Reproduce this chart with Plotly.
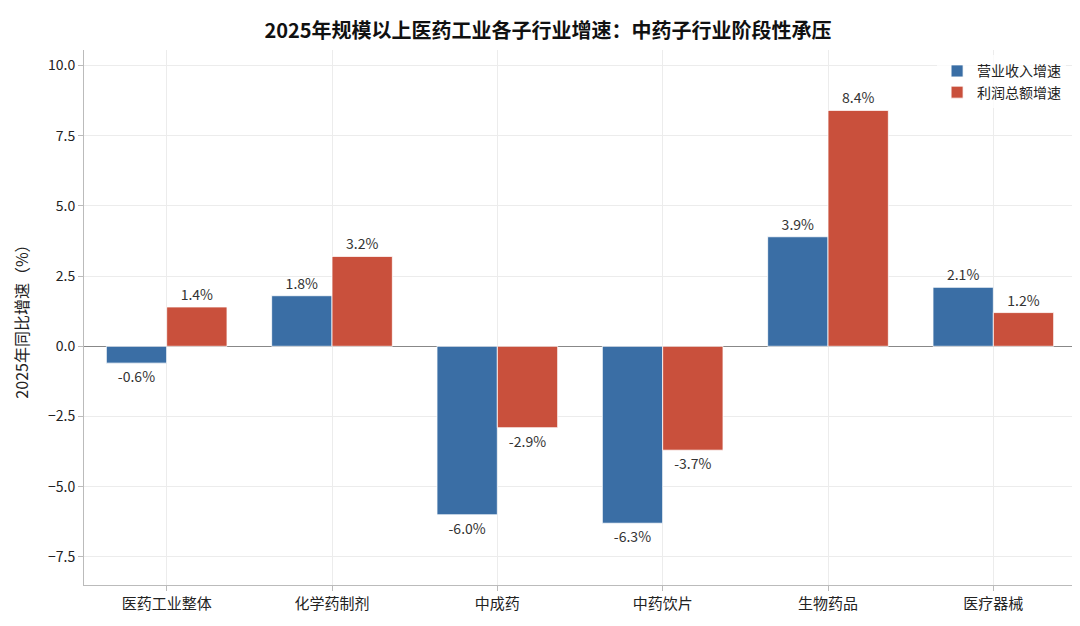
import plotly.graph_objects as go

categories = ["医药工业整体", "化学药制剂", "中成药", "中药饮片", "生物药品", "医疗器械"]
revenue = [-0.6, 1.8, -6.0, -6.3, 3.9, 2.1]
profit = [1.4, 3.2, -2.9, -3.7, 8.4, 1.2]
tick_vals = [-7.5, -5.0, -2.5, 0.0, 2.5, 5.0, 7.5, 10.0]

fig = go.Figure()
fig.add_bar(x=categories, y=revenue, name="营业收入增速", marker_color="#3a6ea5",
            marker_line_color="white", marker_line_width=0.8,
            text=[f"{v:.1f}%" for v in revenue], textposition="outside",
            textfont=dict(size=14, color="#333"), cliponaxis=False)
fig.add_bar(x=categories, y=profit, name="利润总额增速", marker_color="#c9503c",
            marker_line_color="white", marker_line_width=0.8,
            text=[f"{v:.1f}%" for v in profit], textposition="outside",
            textfont=dict(size=14, color="#333"), cliponaxis=False)

fig.update_layout(
    width=1080, height=626, barmode="group", bargap=0.27, bargroupgap=0,
    plot_bgcolor="white", paper_bgcolor="white",
    font=dict(family="Noto Sans CJK SC, DejaVu Sans", size=14, color="#222"),
    title=dict(text="<b>2025年规模以上医药工业各子行业增速：中药子行业阶段性承压</b>",
               x=0.5, xanchor="center", y=0.975, font=dict(size=20, color="#111")),
    margin=dict(l=76, r=12, t=42, b=49),
    legend=dict(x=0.99, y=0.99, xanchor="right", yanchor="top", bgcolor="rgba(255,255,255,0.8)",
                font=dict(size=14)),
    yaxis=dict(range=[-8.5, 10.55], tickvals=tick_vals, tickformat=".1f",
               title=dict(text="2025年同比增速（%）", font=dict(size=16)),
               showgrid=True, gridcolor="#ececec", zeroline=True, zerolinecolor="#888",
               zerolinewidth=1.2, showline=True, linecolor="#bbb", ticks="outside",
               tickcolor="#bbb", tickfont=dict(size=14)),
    xaxis=dict(showgrid=True, gridcolor="#ececec", showline=True, linecolor="#bbb",
               ticks="outside", tickcolor="#bbb", tickfont=dict(size=15)),
)
fig.write_html("out.html")
